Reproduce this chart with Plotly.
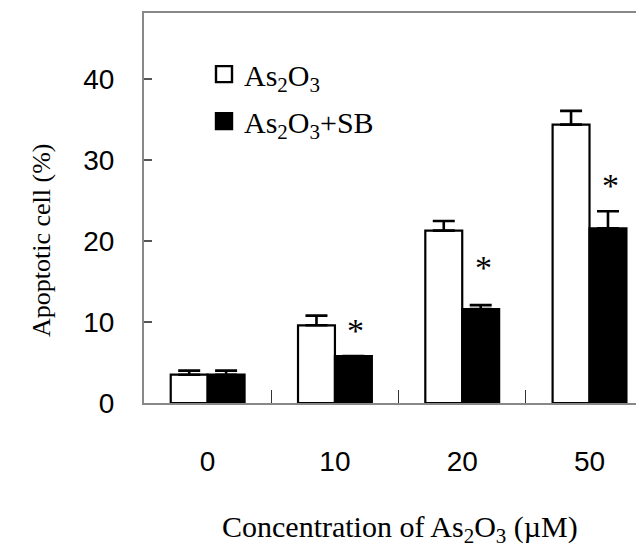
import plotly.graph_objects as go

categories = ["0", "10", "20", "50"]
as2o3 = [3.5, 9.6, 21.3, 34.4]
as2o3_err = [0.5, 1.2, 1.2, 1.7]
as2o3_sb = [3.5, 5.8, 11.6, 21.6]
as2o3_sb_err = [0.5, 0.0, 0.5, 2.1]
significant = ["", "*", "*", "*"]
star_y = [0, 9.8, 17.6, 27.7]
y_ticks = [0, 10, 20, 30, 40]

serif = "Times New Roman, Liberation Serif, serif"
sans = "Arial, Liberation Sans, sans-serif"

fig = go.Figure()
fig.add_trace(go.Bar(
    x=categories, y=as2o3, name="As<sub>2</sub>O<sub>3</sub>", showlegend=False,
    marker=dict(color="white", line=dict(color="black", width=2.2)),
    error_y=dict(type="data", array=as2o3_err, arrayminus=[0]*4, symmetric=False,
                 color="black", thickness=2.6, width=11),
))
fig.add_trace(go.Bar(
    x=categories, y=as2o3_sb, name="As<sub>2</sub>O<sub>3</sub>+SB", showlegend=False,
    marker=dict(color="black", line=dict(color="black", width=2.2)),
    error_y=dict(type="data", array=as2o3_sb_err, arrayminus=[0]*4, symmetric=False,
                 color="black", thickness=2.6, width=11),
))
# legend proxies
fig.add_trace(go.Scatter(
    x=[None], y=[None], mode="markers", name="As<sub>2</sub>O<sub>3</sub>", legendgroup="a",
    marker=dict(symbol="square", size=16, color="white", line=dict(color="black", width=2.4)),
))
fig.add_trace(go.Scatter(
    x=[None], y=[None], mode="markers", name="As<sub>2</sub>O<sub>3</sub>+SB", legendgroup="b",
    marker=dict(symbol="square", size=16, color="black", line=dict(color="black", width=2.4)),
))

for i, (s, yv) in enumerate(zip(significant, star_y)):
    if s:
        fig.add_annotation(x=i, y=yv, text=s, showarrow=False, xshift=21, yshift=-7,
                           font=dict(family=serif, size=34, color="black"),
                           xanchor="center", yanchor="middle")

fig.add_annotation(xref="paper", yref="paper", x=-0.204, y=0.418,
                   text="Apoptotic cell (%)", textangle=-90, showarrow=False,
                   font=dict(family=serif, size=26, color="black"),
                   xanchor="center", yanchor="middle")
fig.add_annotation(xref="paper", yref="paper", x=0.512, y=-0.322,
                   text="Concentration of As<sub>2</sub>O<sub>3</sub> (\u00b5M)", showarrow=False,
                   font=dict(family=serif, size=30, color="black"),
                   xanchor="center", yanchor="middle")

fig.update_layout(
    width=636, height=545,
    margin=dict(l=136, r=0, t=5, b=150),
    paper_bgcolor="white", plot_bgcolor="white",
    barmode="group", bargap=0.42, bargroupgap=0,
    showlegend=True,
    legend=dict(x=0.12, y=0.91, xanchor="left", yanchor="top",
                font=dict(family=serif, size=30, color="black"),
                bgcolor="rgba(0,0,0,0)", tracegroupgap=5, itemwidth=30),
    xaxis=dict(type="category", categoryorder="array", categoryarray=categories,
               range=[-0.5, 3.428], showgrid=False, zeroline=False,
               showline=True, linecolor="#888888", linewidth=2, mirror=True,
               ticks="inside", tickson="boundaries", ticklen=13, tickcolor="#333333", tickwidth=1,
               ticklabelstandoff=32,
               tickfont=dict(family=sans, size=28, color="black")),
    yaxis=dict(range=[0, 48.2], tickvals=y_ticks, showgrid=False, zeroline=False,
               showline=True, linecolor="#888888", linewidth=2,
               ticks="inside", ticklen=8, tickcolor="#555555", tickwidth=1.5,
               ticklabelstandoff=22,
               tickfont=dict(family=sans, size=28, color="black")),
)

fig.write_html("out.html")
